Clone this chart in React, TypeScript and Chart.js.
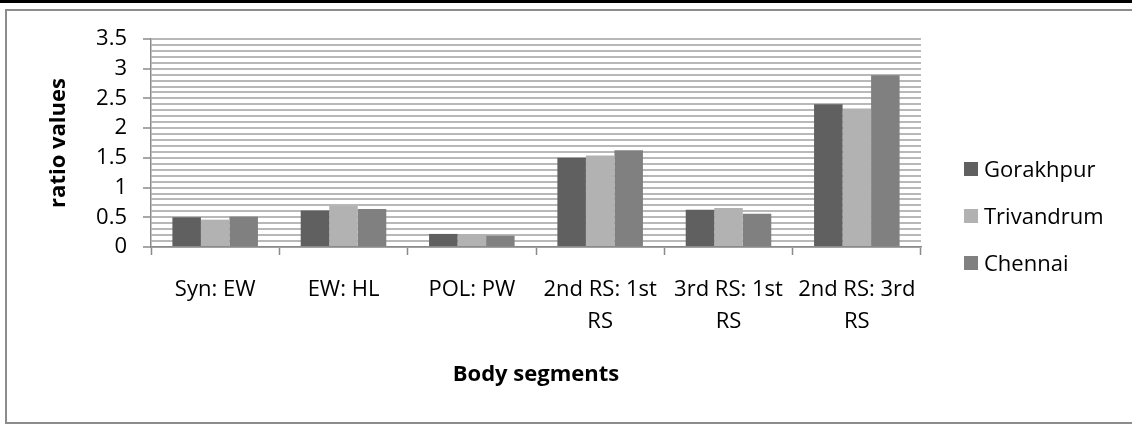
import React, { useEffect, useRef } from 'react';
import { Chart, registerables } from 'chart.js';

Chart.register(...registerables);

const categories: (string | string[])[] = [
  'Syn: EW',
  'EW: HL',
  'POL: PW',
  ['2nd RS: 1st', 'RS'],
  ['3rd RS: 1st', 'RS'],
  ['2nd RS: 3rd', 'RS'],
];
const seriesNames = ['Gorakhpur', 'Trivandrum', 'Chennai'];
const gorakhpur = [0.5, 0.615, 0.22, 1.5, 0.625, 2.4];
const trivandrum = [0.46, 0.69, 0.215, 1.54, 0.655, 2.33];
const chennai = [0.51, 0.64, 0.19, 1.63, 0.56, 2.89];
const seriesColors = ['#606060', '#b2b2b2', '#808080'];
const yMajorTicks = [0, 0.5, 1, 1.5, 2, 2.5, 3, 3.5];
const yTickLabels = ['0', '0.5', '1', '1.5', '2', '2.5', '3', '3.5'];
const yMin = 0;
const yMax = 3.5;
const yMinorStep = 0.1;
const xTitle = 'Body segments';
const yTitle = 'ratio values';

const FONT = '"Open Sans", "Liberation Sans", sans-serif';

function majorIndex(v: number): number {
  for (let i = 0; i < yMajorTicks.length; i++) {
    if (Math.abs(yMajorTicks[i] - v) < 1e-6) return i;
  }
  return -1;
}

const legendPlugin = {
  id: 'customLegend',
  afterDraw(chart: any) {
    const ctx = chart.ctx;
    ctx.save();
    ctx.font = `22px ${FONT}`;
    ctx.textBaseline = 'alphabetic';
    ctx.textAlign = 'left';
    chart.data.datasets.forEach((ds: any, i: number) => {
      const cy = 169 + i * 47;
      ctx.fillStyle = ds.backgroundColor;
      ctx.fillRect(964, cy - 7, 14, 14);
      ctx.fillStyle = '#000000';
      ctx.fillText(ds.label, 984, cy + 8);
    });
    ctx.restore();
  },
};

export default function App() {
  const canvasRef = useRef<HTMLCanvasElement | null>(null);

  useEffect(() => {
    if (!canvasRef.current) return;
    const values = [gorakhpur, trivandrum, chennai];
    const chart = new Chart(canvasRef.current, {
      type: 'bar',
      data: {
        labels: categories as any,
        datasets: seriesNames.map((name, i) => ({
          label: name,
          data: values[i],
          backgroundColor: seriesColors[i],
          borderWidth: 0,
          categoryPercentage: 3 / 4.5,
          barPercentage: 1,
        })),
      },
      options: {
        responsive: false,
        animation: false,
        devicePixelRatio: 1,
        layout: { padding: { left: 0, top: 39, right: 211, bottom: 0 } },
        plugins: {
          legend: { display: false },
          tooltip: { enabled: false },
          title: { display: false },
        },
        scales: {
          x: {
            afterFit: (scale: any) => {
              scale.height = 178;
            },
            grid: {
              display: true,
              offset: true,
              drawOnChartArea: false,
              drawTicks: true,
              tickLength: 8,
              tickColor: '#8a8a8a',
              tickWidth: 1.5,
            },
            border: { display: true, color: '#8a8a8a', width: 1.5 },
            ticks: {
              color: '#000000',
              font: { family: FONT, size: 22, lineHeight: 1.44 },
              padding: 19,
              maxRotation: 0,
              minRotation: 0,
              autoSkip: false,
            },
            title: {
              display: true,
              text: xTitle,
              color: '#000000',
              font: { family: FONT, size: 22, weight: 'bold', lineHeight: 1.2 },
              padding: { top: 0, bottom: 37 },
            },
          },
          y: {
            min: yMin,
            max: yMax,
            afterFit: (scale: any) => {
              scale.width = 151;
            },
            grid: {
              color: '#b8b8b8',
              lineWidth: 2,
              drawTicks: true,
              tickLength: 8,
              tickColor: (c: any) =>
                c.tick && majorIndex(c.tick.value) >= 0 ? '#8a8a8a' : 'rgba(0,0,0,0)',
              tickWidth: 1.5,
            },
            border: { display: true, color: '#8a8a8a', width: 1.5 },
            ticks: {
              stepSize: yMinorStep,
              autoSkip: false,
              color: '#000000',
              font: { family: FONT, size: 22 },
              padding: 16,
              callback: (v: any) => {
                const idx = majorIndex(Number(v));
                return idx >= 0 ? yTickLabels[idx] : '';
              },
            },
            title: {
              display: true,
              text: yTitle,
              color: '#000000',
              font: { family: FONT, size: 22, weight: 'bold', lineHeight: 1.2 },
              padding: { top: 46, bottom: 0 },
            },
          },
        },
      } as any,
      plugins: [legendPlugin],
    });
    return () => {
      chart.destroy();
    };
  }, []);

  return (
    <div
      style={{
        position: 'absolute',
        left: 0,
        top: 0,
        width: 1132,
        height: 425,
        overflow: 'hidden',
        background: '#ffffff',
      }}
    >
      <div
        style={{
          position: 'absolute',
          left: 0,
          top: 0,
          width: 1132,
          height: 3,
          background: '#000000',
        }}
      />
      <div
        style={{
          position: 'absolute',
          left: 5,
          top: 9,
          width: 1150,
          height: 415,
          boxSizing: 'border-box',
          border: '2px solid #8c8c8c',
        }}
      />
      <canvas
        ref={canvasRef}
        width={1132}
        height={425}
        style={{ position: 'absolute', left: 0, top: 0, width: 1132, height: 425 }}
      />
    </div>
  );
}
